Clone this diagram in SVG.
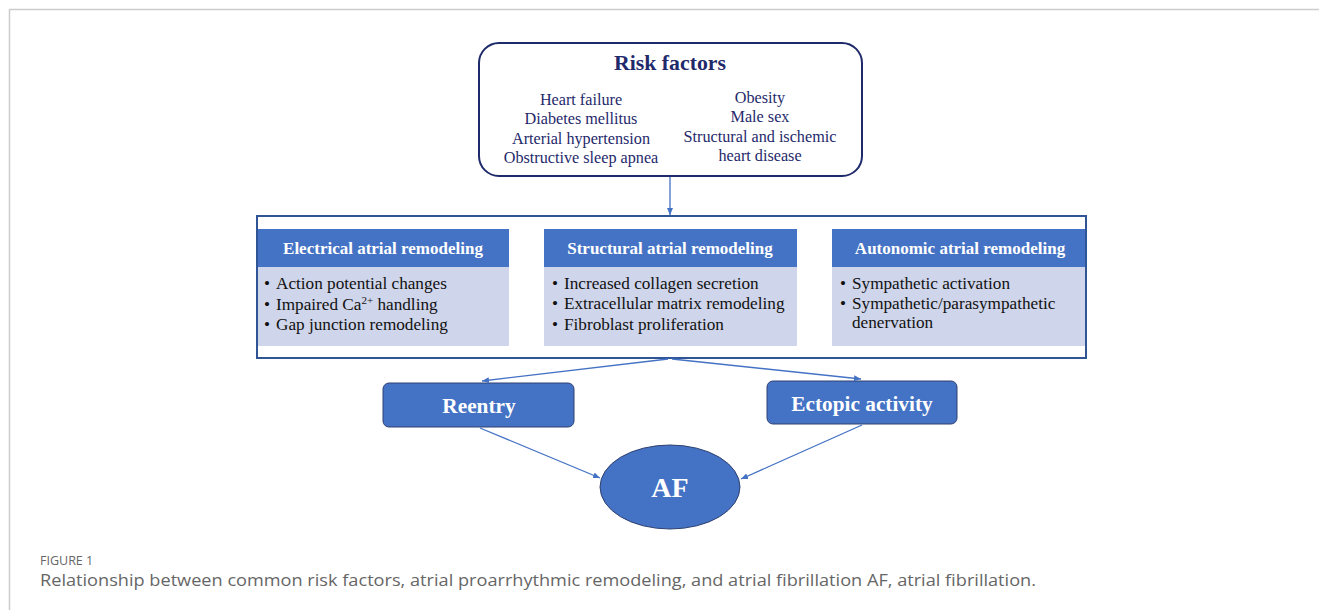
<svg xmlns="http://www.w3.org/2000/svg" width="1319" height="610" viewBox="0 0 1319 610">
<defs>
<marker id="ah" markerWidth="8" markerHeight="8" refX="7" refY="4" orient="auto" markerUnits="userSpaceOnUse">
<path d="M0,1 L7,4 L0,7 Z" fill="#4472c4"/>
</marker>
<style>
.serif{font-family:"Liberation Serif","Times New Roman",serif;}
.rf{font-size:16.2px;fill:#1f2a6b;text-anchor:middle;}
.hd{font-size:17px;font-weight:bold;fill:#ffffff;text-anchor:middle;}
.bl{font-size:17.2px;fill:#111111;}
.hdr{fill:#4472c4;}
.body{fill:#cfd5ea;}
.conn{stroke:#4472c4;stroke-width:1.3;fill:none;marker-end:url(#ah);}
.node{fill:#4472c4;stroke:#2f4170;stroke-width:1;}
.big{font-weight:bold;fill:#ffffff;text-anchor:middle;}
.cap{font-family:"Open Sans","Noto Sans",sans-serif;fill:#666666;}
</style>
</defs>
<rect width="1319" height="610" fill="#ffffff"/>
<path d="M9.5,610 L9.5,9.5 L1319,9.5" fill="none" stroke="#cccccc" stroke-width="1.5"/>

<g id="risk-factors">
<rect x="479" y="43" width="383" height="133" rx="20" fill="#ffffff" stroke="#1f2a6b" stroke-width="2"/>
<text class="serif" x="670" y="70" font-size="21.8" font-weight="bold" fill="#1f2a6b" text-anchor="middle">Risk factors</text>
<text class="serif rf" x="581" y="105">Heart failure</text>
<text class="serif rf" x="581" y="124">Diabetes mellitus</text>
<text class="serif rf" x="581" y="144">Arterial hypertension</text>
<text class="serif rf" x="581" y="163">Obstructive sleep apnea</text>
<text class="serif rf" x="760" y="103">Obesity</text>
<text class="serif rf" x="760" y="122">Male sex</text>
<text class="serif rf" x="760" y="142">Structural and ischemic</text>
<text class="serif rf" x="760" y="161">heart disease</text>
</g>

<g id="remodeling">
<rect x="257" y="216" width="829" height="142" fill="#ffffff" stroke="#2f5597" stroke-width="2"/>
</g>

<g id="electrical">
<rect class="hdr" x="258" y="229" width="251" height="38"/>
<rect class="body" x="258" y="267" width="251" height="79"/>
<text class="serif hd" x="383" y="254">Electrical atrial remodeling</text>
<text class="serif bl" x="264" y="289">•</text><text class="serif bl" x="276" y="289">Action potential changes</text>
<text class="serif bl" x="264" y="310">•</text><text class="serif bl" x="276" y="310">Impaired Ca<tspan font-size="11" dy="-6">2+</tspan><tspan dy="6"> handling</tspan></text>
<text class="serif bl" x="264" y="330">•</text><text class="serif bl" x="276" y="330">Gap junction remodeling</text>
</g>

<g id="structural">
<rect class="hdr" x="544" y="229" width="253" height="38"/>
<rect class="body" x="544" y="267" width="253" height="79"/>
<text class="serif hd" x="670" y="254">Structural atrial remodeling</text>
<text class="serif bl" x="552" y="289">•</text><text class="serif bl" x="564" y="289">Increased collagen secretion</text>
<text class="serif bl" x="552" y="309">•</text><text class="serif bl" x="564" y="309">Extracellular matrix remodeling</text>
<text class="serif bl" x="552" y="330">•</text><text class="serif bl" x="564" y="330">Fibroblast proliferation</text>
</g>

<g id="autonomic">
<rect class="hdr" x="832" y="229" width="253" height="38"/>
<rect class="body" x="832" y="267" width="253" height="79"/>
<text class="serif hd" x="960" y="254">Autonomic atrial remodeling</text>
<text class="serif bl" x="840" y="289">•</text><text class="serif bl" x="852" y="289">Sympathetic activation</text>
<text class="serif bl" x="840" y="309">•</text><text class="serif bl" x="852" y="309">Sympathetic/parasympathetic</text>
<text class="serif bl" x="852" y="328">denervation</text>
</g>

<g id="reentry">
<rect class="node" x="383" y="383" width="191" height="44" rx="6"/>
<text class="serif big" x="479" y="413" font-size="21.3">Reentry</text>
</g>

<g id="ectopic">
<rect class="node" x="767" y="381" width="190" height="43" rx="6"/>
<text class="serif big" x="862" y="411" font-size="21.3">Ectopic activity</text>
</g>

<g id="af">
<ellipse class="node" cx="670" cy="487" rx="70" ry="42"/>
<text class="serif big" x="670" y="497" font-size="28">AF</text>
</g>

<g id="connectors">
<line class="conn" x1="670" y1="177" x2="670" y2="215"/>
<line class="conn" x1="668" y1="359" x2="482" y2="381"/>
<line class="conn" x1="672" y1="359" x2="861" y2="379"/>
<line class="conn" x1="480" y1="428" x2="600" y2="478"/>
<line class="conn" x1="862" y1="425" x2="741" y2="479"/>
</g>

<g id="caption">
<text class="cap" x="40" y="565" font-size="12.5">FIGURE 1</text>
<text class="cap" x="40" y="586" font-size="17" textLength="996" lengthAdjust="spacingAndGlyphs">Relationship between common risk factors, atrial proarrhythmic remodeling, and atrial fibrillation AF, atrial fibrillation.</text>
</g>
</svg>
